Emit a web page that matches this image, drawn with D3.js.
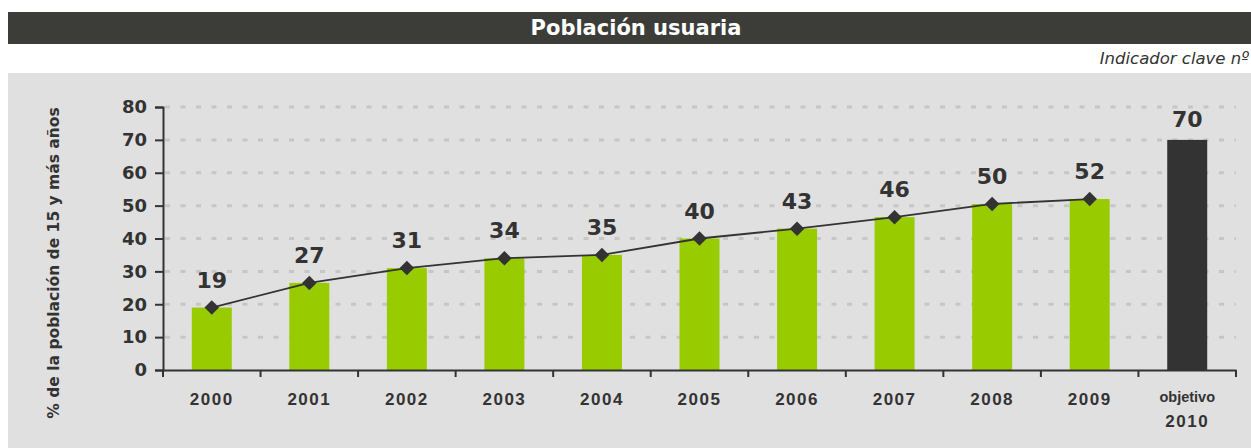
<!DOCTYPE html>
<html>
<head>
<meta charset="utf-8">
<script src="https://cdn.jsdelivr.net/npm/d3@7"></script>
<style>
  html, body { margin: 0; padding: 0; background: #fff; }
  svg { display: block; font-family: 'DejaVu Sans', sans-serif; }
</style>
</head>
<body>
<div id="chart"></div>
<script>
// data
const categories = ['2000', '2001', '2002', '2003', '2004', '2005', '2006', '2007', '2008', '2009', 'objetivo 2010'];
const values = [19, 26.5, 31, 34, 35, 40, 43, 46.5, 50.5, 52, 70];
const valueLabels = ['19', '27', '31', '34', '35', '40', '43', '46', '50', '52', '70'];
const yTicks = [0, 10, 20, 30, 40, 50, 60, 70, 80];
const titleText = 'Población usuaria';
const subtitleText = 'Indicador clave nº';
const yTitle = '% de la población de 15 y más años';

const W = 1251, H = 448;
const margin = { top: 107, right: 15, bottom: 78, left: 163 };
const width = W - margin.left - margin.right;
const height = H - margin.top - margin.bottom;

const svg = d3.select('#chart').append('svg')
  .attr('width', W)
  .attr('height', H);

// header bar + panel
svg.append('rect').attr('x', 8).attr('y', 12).attr('width', W - 8).attr('height', 32).attr('fill', '#3c3d39');
svg.append('text')
  .attr('x', 636).attr('y', 35)
  .attr('text-anchor', 'middle')
  .attr('fill', '#fff')
  .attr('font-size', 21).attr('font-weight', 'bold')
  .text(titleText);
svg.append('text')
  .attr('x', W - 2).attr('y', 64)
  .attr('text-anchor', 'end')
  .attr('fill', '#333')
  .attr('font-size', 16.5).attr('font-style', 'italic')
  .text(subtitleText);
svg.append('rect').attr('x', 8).attr('y', 73).attr('width', W - 8).attr('height', H - 73).attr('fill', '#e0e0e0');

const g = svg.append('g').attr('transform', `translate(${margin.left},${margin.top})`);

const x = d3.scaleBand().domain(categories).range([0, width]).paddingInner(0.59).paddingOuter(0.295);
const xb = d3.scaleBand().domain(categories).range([0, width]);
const y = d3.scaleLinear().domain([0, 80]).range([height, 0]);

// dashed gridlines
g.append('g')
  .selectAll('line')
  .data(yTicks.slice(1))
  .enter().append('line')
  .attr('x1', 2).attr('x2', width)
  .attr('y1', d => y(d)).attr('y2', d => y(d))
  .attr('stroke', '#c6c6c6')
  .attr('stroke-width', 3)
  .attr('stroke-dasharray', '5 10.5');

// bars
g.selectAll('.bar')
  .data(values)
  .enter().append('rect')
  .attr('class', 'bar')
  .attr('x', (d, i) => x(categories[i]))
  .attr('y', d => y(d))
  .attr('width', x.bandwidth())
  .attr('height', d => height - y(d))
  .attr('fill', (d, i) => i === categories.length - 1 ? '#333333' : '#99cc00');

// axes
const yAxis = g.append('g')
  .call(d3.axisLeft(y).tickValues(yTicks).tickSize(8).tickPadding(8));
yAxis.select('.domain').attr('stroke', '#333').attr('stroke-width', 2);
yAxis.selectAll('.tick line').attr('stroke', '#333').attr('stroke-width', 2);
yAxis.selectAll('text')
  .attr('font-size', 18).attr('font-weight', 'bold').attr('fill', '#333')
  .attr('font-family', 'DejaVu Sans, sans-serif');

const xAxis = g.append('g')
  .attr('transform', `translate(0,${height})`)
  .call(d3.axisBottom(xb).tickSize(0).tickFormat(''));
xAxis.select('.domain').attr('stroke', '#333').attr('stroke-width', 2);
xAxis.selectAll('.tick').remove();
// boundary ticks between categories
xAxis.selectAll('.sep')
  .data(d3.range(categories.length + 1))
  .enter().append('line')
  .attr('x1', i => i * xb.step()).attr('x2', i => i * xb.step())
  .attr('y1', 0).attr('y2', 7)
  .attr('stroke', '#333').attr('stroke-width', 2);

// x labels
categories.forEach((c, i) => {
  const cx = xb(c) + xb.bandwidth() / 2;
  if (i === categories.length - 1) {
    const parts = c.split(' ');
    xAxis.append('text').attr('x', cx).attr('y', 32).attr('text-anchor', 'middle')
      .attr('font-size', 14.5).attr('font-weight', 'bold').attr('fill', '#333').text(parts[0]);
    xAxis.append('text').attr('x', cx).attr('y', 57).attr('text-anchor', 'middle')
      .attr('font-size', 17).attr('font-weight', 'bold').attr('fill', '#333')
      .attr('letter-spacing', 1.5).text(parts[1]);
  } else {
    xAxis.append('text').attr('x', cx).attr('y', 35).attr('text-anchor', 'middle')
      .attr('font-size', 17).attr('font-weight', 'bold').attr('fill', '#333')
      .attr('letter-spacing', 1.5).text(c);
  }
});

// line + diamonds over the historical series
const hist = values.slice(0, values.length - 1);
const cxOf = i => x(categories[i]) + x.bandwidth() / 2;
g.append('path')
  .datum(hist)
  .attr('fill', 'none')
  .attr('stroke', '#333')
  .attr('stroke-width', 1.8)
  .attr('d', d3.line().x((d, i) => cxOf(i)).y(d => y(d)));

g.selectAll('.dot')
  .data(hist)
  .enter().append('path')
  .attr('class', 'dot')
  .attr('transform', (d, i) => `translate(${cxOf(i)},${y(d)}) rotate(45)`)
  .attr('d', d3.symbol().type(d3.symbolSquare).size(105))
  .attr('fill', '#333');

// value labels
g.selectAll('.val')
  .data(values)
  .enter().append('text')
  .attr('class', 'val')
  .attr('x', (d, i) => cxOf(i))
  .attr('y', (d, i) => y(d) - (i === values.length - 1 ? 13 : 20))
  .attr('text-anchor', 'middle')
  .attr('font-size', 22).attr('font-weight', 'bold').attr('fill', '#333')
  .text((d, i) => valueLabels[i]);

// y title
svg.append('text')
  .attr('transform', `translate(59,${263}) rotate(-90)`)
  .attr('text-anchor', 'middle')
  .attr('font-size', 15.5).attr('font-weight', 'bold').attr('fill', '#333')
  .text(yTitle);
</script>
</body>
</html>
